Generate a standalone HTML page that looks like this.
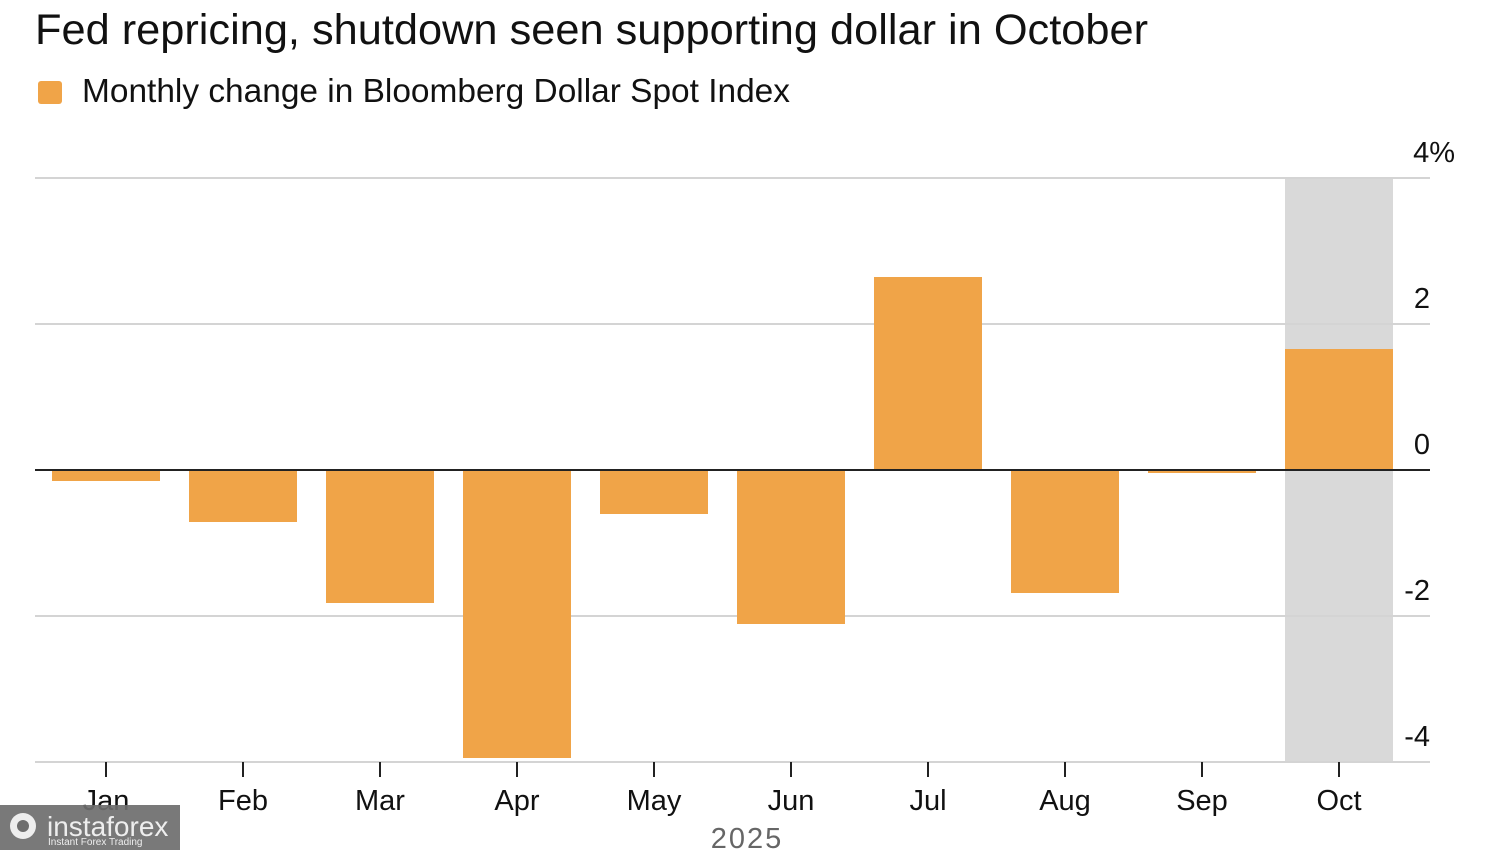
<!DOCTYPE html>
<html><head><meta charset="utf-8"><style>
html,body{margin:0;padding:0;background:#fff;}
svg{display:block;font-family:"Liberation Sans",Arial,sans-serif;}
</style></head><body>
<svg width="1500" height="850" viewBox="0 0 1500 850">
<text x="35" y="44" font-size="42.8" fill="#111" textLength="1113" lengthAdjust="spacingAndGlyphs">Fed repricing, shutdown seen supporting dollar in October</text>
<rect x="38" y="81" width="24" height="23" rx="3" fill="#f0a448"/>
<text x="82" y="102" font-size="33" fill="#111" textLength="708" lengthAdjust="spacingAndGlyphs">Monthly change in Bloomberg Dollar Spot Index</text>
<rect x="1285" y="178" width="108" height="584" fill="#d9d9d9"/>
<g stroke="#d4d4d4" stroke-width="2">
<line x1="35" x2="1430" y1="178" y2="178"/>
<line x1="35" x2="1430" y1="324" y2="324"/>
<line x1="35" x2="1430" y1="616" y2="616"/>
<line x1="35" x2="1430" y1="762" y2="762"/>
</g>
<g fill="#f0a448">
<rect x="52" y="470" width="108" height="11"/>
<rect x="189" y="470" width="108" height="52"/>
<rect x="326" y="470" width="108" height="133"/>
<rect x="463" y="470" width="108" height="288"/>
<rect x="600" y="470" width="108" height="44"/>
<rect x="737" y="470" width="108" height="154"/>
<rect x="874" y="277" width="108" height="193"/>
<rect x="1011" y="470" width="108" height="123"/>
<rect x="1148" y="470" width="108" height="3"/>
<rect x="1285" y="349" width="108" height="121"/>
</g>
<line x1="35" x2="1430" y1="470" y2="470" stroke="#222" stroke-width="2"/>
<g font-size="29" fill="#111" text-anchor="end">
<text x="1455" y="162">4%</text>
<text x="1430" y="308">2</text>
<text x="1430" y="454">0</text>
<text x="1430" y="600">-2</text>
<text x="1430" y="746">-4</text>
</g>
<g stroke="#222" stroke-width="2">
<line x1="106" x2="106" y1="762" y2="777"/><line x1="243" x2="243" y1="762" y2="777"/>
<line x1="380" x2="380" y1="762" y2="777"/><line x1="517" x2="517" y1="762" y2="777"/>
<line x1="654" x2="654" y1="762" y2="777"/><line x1="791" x2="791" y1="762" y2="777"/>
<line x1="928" x2="928" y1="762" y2="777"/><line x1="1065" x2="1065" y1="762" y2="777"/>
<line x1="1202" x2="1202" y1="762" y2="777"/><line x1="1339" x2="1339" y1="762" y2="777"/>
</g>
<g font-size="29" fill="#111" text-anchor="middle">
<text x="106" y="810">Jan</text><text x="243" y="810">Feb</text><text x="380" y="810">Mar</text>
<text x="517" y="810">Apr</text><text x="654" y="810">May</text><text x="791" y="810">Jun</text>
<text x="928" y="810">Jul</text><text x="1065" y="810">Aug</text><text x="1202" y="810">Sep</text>
<text x="1339" y="810">Oct</text>
</g>
<text x="747" y="848" font-size="29" fill="#666" text-anchor="middle" letter-spacing="2">2025</text>
<rect x="0" y="805" width="180" height="45" fill="#6e6e6e" opacity="0.92"/>
<circle cx="23" cy="826" r="13" fill="#eee"/>
<circle cx="23" cy="826" r="6" fill="#6e6e6e"/>
<text x="47" y="836" font-size="28" fill="#eee">instaforex</text>
<text x="48" y="845" font-size="10" fill="#eee">Instant Forex Trading</text>
</svg>
</body></html>
